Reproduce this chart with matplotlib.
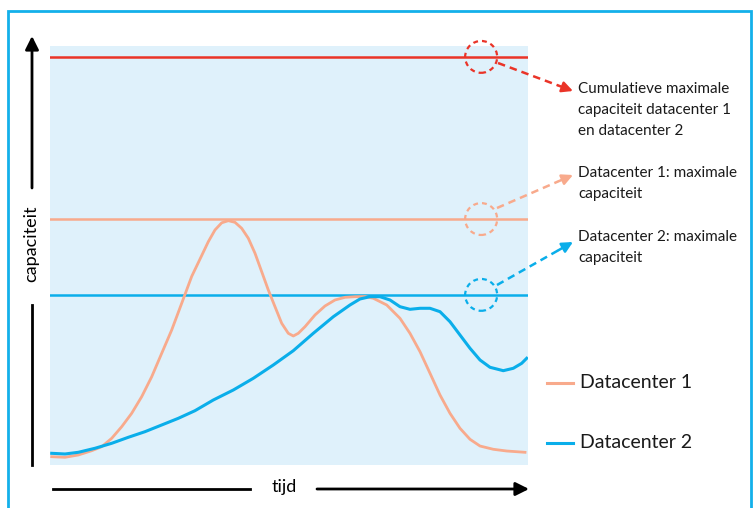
import matplotlib.pyplot as plt
from matplotlib.patches import Ellipse, Rectangle

## Data (time 0-100, capacity 0-100)
t_dc1 = [0.36, 3.14, 5.92, 8.72, 10.82, 12.91, 15.00, 17.09, 19.18, 21.28, 23.37,
         25.46, 27.55, 29.64, 31.74, 33.12, 34.52, 35.92, 37.30, 38.70, 40.10,
         41.49, 42.89, 44.29, 45.67, 47.07, 48.47, 49.85, 50.90, 51.95, 53.35,
         55.44, 57.53, 59.62, 61.72, 63.81, 65.90, 67.64, 70.44, 73.22, 75.31,
         77.41, 79.50, 81.59, 83.68, 85.77, 87.87, 89.96, 92.74, 95.54, 99.37]
cap_dc1 = [1.98, 1.84, 2.39, 3.41, 4.37, 6.37, 9.14, 12.34, 16.30, 21.07, 26.66,
           32.22, 38.59, 45.00, 50.00, 53.30, 56.10, 57.80, 58.31, 57.92, 56.49,
           54.11, 50.53, 46.13, 41.77, 37.78, 33.82, 31.43, 30.79, 31.43, 33.01,
           35.80, 37.95, 39.38, 40.02, 40.17, 40.21, 39.79, 38.19, 35.01, 31.43,
           27.04, 21.89, 16.71, 12.34, 8.76, 6.13, 4.53, 3.75, 3.34, 3.03]
t_dc2 = [0.36, 3.14, 5.92, 9.41, 12.91, 16.38, 19.87, 23.37, 26.84, 30.33, 34.16,
         38.35, 42.53, 46.72, 50.90, 55.08, 59.27, 62.76, 64.85, 66.95, 69.04,
         71.13, 73.22, 75.31, 77.41, 79.50, 81.59, 83.68, 85.77, 87.87, 89.96,
         92.05, 94.83, 96.92, 98.68, 99.73]
cap_dc2 = [2.79, 2.63, 3.03, 3.99, 5.18, 6.61, 7.95, 9.55, 11.14, 12.96, 15.51,
           17.90, 20.69, 23.87, 27.28, 31.43, 35.39, 38.19, 39.62, 40.17, 40.17,
           39.38, 37.78, 37.16, 37.40, 37.40, 36.59, 34.20, 31.03, 27.85, 25.06,
           23.32, 22.51, 23.08, 24.27, 25.47]
max_total = 97.4
max_dc1 = 58.7
max_dc2 = 40.6

labels = ["Cumulatieve maximale\ncapaciteit datacenter 1\nen datacenter 2",
          "Datacenter 1: maximale\ncapaciteit",
          "Datacenter 2: maximale\ncapaciteit"]
series_names = ["Datacenter 1", "Datacenter 2"]

RED = '#ea3428'
SALMON = '#f8aa8c'
BLUE = '#0aaeea'
BG = '#dff1fb'
TXT = '#1a1a1a'

plt.rcParams['font.family'] = ['Lato', 'DejaVu Sans']

W, H = 754, 508
fig = plt.figure(figsize=(W / 100, H / 100), dpi=100)


def px(x, y):
    # pixel (from top-left) -> figure fraction
    return (x / W, 1 - y / H)


ax = fig.add_axes([50 / W, (H - 465) / H, 478 / W, 419 / H])
ax.set_facecolor(BG)
ax.set_xlim(0, 100)
ax.set_ylim(0, 100)
for s in ax.spines.values():
    s.set_visible(False)
ax.set_xticks([])
ax.set_yticks([])

# maximum lines
ax.axhline(max_total, color=RED, lw=1.8)
ax.axhline(max_dc1, color=SALMON, lw=1.8)
ax.axhline(max_dc2, color=BLUE, lw=1.8)

ax.plot(t_dc1, cap_dc1, color=SALMON, lw=2, solid_joinstyle='round')
ax.plot(t_dc2, cap_dc2, color=BLUE, lw=2.2, solid_joinstyle='round')

# dashed circles on the max lines
cx = 90.2
for yy, c in [(max_total, RED), (max_dc1, SALMON), (max_dc2, BLUE)]:
    ax.add_patch(Ellipse((cx, yy), 6.7, 7.6, fill=False, ec=c, lw=1.6,
                         ls=(0, (2.2, 1.8)), clip_on=False))

# dashed arrows to the annotations
arrows = [((498, 63), (573, 91), RED), ((497, 208), (573, 175), SALMON),
          ((497, 285), (573, 242), BLUE)]
for (x0, y0), (x1, y1), c in arrows:
    xm = x0 + (x1 - x0) * 0.8
    ym = y0 + (y1 - y0) * 0.8
    fig.add_artist(plt.Line2D([px(x0, y0)[0], px(xm, ym)[0]],
                              [px(x0, y0)[1], px(xm, ym)[1]],
                              color=c, lw=1.8, ls=(0, (3, 2))))
    ax.annotate('', xy=px(x1, y1), xycoords='figure fraction',
                xytext=px(xm, ym), textcoords='figure fraction',
                arrowprops=dict(arrowstyle='-|>', color=c, lw=1.8,
                                mutation_scale=16, shrinkA=0, shrinkB=0))

for (ty, lab) in [(82, labels[0]), (166, labels[1]), (230, labels[2])]:
    fig.text(*px(578, ty), lab, ha='left', va='top', fontsize=11,
             linespacing=1.65, color=TXT)

# legend
for (yy, c, name) in [(383, SALMON, series_names[0]), (443, BLUE, series_names[1])]:
    fig.add_artist(plt.Line2D([px(547, yy)[0], px(573, yy)[0]],
                              [px(547, yy)[1], px(573, yy)[1]], color=c, lw=2.2))
    fig.text(*px(580, yy - 1), name, ha='left', va='center', fontsize=14,
             color=TXT)

# axis arrows
fig.add_artist(plt.Line2D([px(32, 465)[0], px(32, 305)[0]],
                          [px(32, 465)[1], px(32, 305)[1]], color='black', lw=2))
ax.annotate('', xy=px(32, 36), xycoords='figure fraction',
            xytext=px(32, 188), textcoords='figure fraction',
            arrowprops=dict(arrowstyle='-|>', color='black', lw=2,
                            mutation_scale=20, shrinkA=0, shrinkB=0))
fig.text(*px(31, 244), 'capaciteit', rotation=90, ha='center', va='center',
         fontsize=13, color='black')

fig.add_artist(plt.Line2D([px(53, 489)[0], px(250, 489)[0]],
                          [px(53, 489)[1], px(250, 489)[1]], color='black', lw=2))
ax.annotate('', xy=px(529, 489), xycoords='figure fraction',
            xytext=px(317, 489), textcoords='figure fraction',
            arrowprops=dict(arrowstyle='-|>', color='black', lw=2,
                            mutation_scale=20, shrinkA=0, shrinkB=0))
fig.text(*px(284, 487), 'tijd', ha='center', va='center', fontsize=13,
         color='black')

# outer frame
fig.add_artist(Rectangle(px(8, 530), 743 / W, 519 / H, transform=fig.transFigure,
                         fill=False, ec='#13b0ea', lw=2))

fig.savefig('out.png', dpi=100)
